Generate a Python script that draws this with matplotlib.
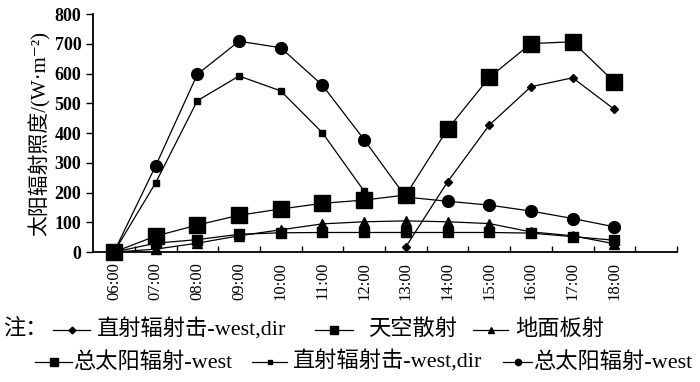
import numpy as np
import matplotlib
matplotlib.use('Agg')
import matplotlib.pyplot as plt
from matplotlib.lines import Line2D

plt.rcParams['font.family'] = ['Liberation Serif', 'Noto Sans CJK SC', 'DejaVu Sans']

hours = ['06:00', '07:00', '08:00', '09:00', '10:00', '11:00', '12:00',
         '13:00', '14:00', '15:00', '16:00', '17:00', '18:00']
nan = np.nan

# afternoon direct (diamonds)
dir_west_pm = [nan, nan, nan, nan, nan, nan, nan, 18, 236, 427, 556, 586, 480]
# sky diffuse (medium squares)
sky = [0, 30, 42, 60, 65, 66, 66, 66, 66, 66, 64, 52, 40]
# ground reflected (triangles)
ground = [0, 10, 30, 55, 75, 95, 102, 105, 102, 96, 68, 55, 28]
# total west (large squares)
total_west = [0, 54, 91, 124, 145, 164, 175, 192, 413, 587, 701, 707, 572]
# morning direct (small squares)
dir_west_am = [0, 233, 509, 592, 542, 401, 205, nan, nan, nan, nan, nan, nan]
# total (circles)
total_circ = [0, 290, 598, 709, 687, 561, 378, 185, 171, 158, 138, 113, 85]

labels = ['直射辐射击-west,dir', '天空散射', '地面板射',
          '总太阳辐射-west', '直射辐射击-west,dir', '总太阳辐射-west']

markers = ['D', 's', '^', 's', 's', 'o']
plot_ms = [4.5, 7, 7, 11, 4, 8.5]
legend_ms = [3.5, 5.5, 4, 6, 3.5, 4.5]
series = [dir_west_pm, sky, ground, total_west, dir_west_am, total_circ]

fig = plt.figure(figsize=(7, 3.82), dpi=100)
ax = fig.add_axes([0.133, 0.340, 0.834, 0.623])

x = np.arange(len(hours))
for ys, m, ms in zip(series, markers, plot_ms):
    ax.plot(x, ys, color='black', lw=0.9, marker=m, markersize=ms,
            markerfacecolor='black', markeredgecolor='black', clip_on=False)

ax.set_xlim(-0.5, 13.5)
ax.set_ylim(0, 800)
ax.set_yticks(range(0, 801, 100))
ax.set_xticks(x)
ax.set_xticklabels(hours, rotation=90, fontsize=12)
ax.set_xticks(np.arange(0.5, 14, 1), minor=True)
ax.tick_params(axis='x', which='major', length=0, pad=7)
ax.tick_params(axis='x', which='minor', direction='in', length=4, width=1)
ax.tick_params(axis='y', direction='out', length=5, width=1, labelsize=13)
for lab in ax.get_yticklabels():
    lab.set_fontweight('bold')
ax.spines['top'].set_visible(False)
ax.spines['right'].set_visible(False)
ax.spines['left'].set_linewidth(1.3)
ax.spines['bottom'].set_linewidth(1.3)
ax.set_ylabel('太阳辐射照度/(W·m⁻²)', fontsize=15, labelpad=3)

# legend laid out by hand in two rows below the axes (pixel positions)
W, H = 700.0, 382.0
fig.text(3 / W, 1 - 330 / H, '注：', fontsize=16, va='center')
entries = [
    (0, 53, 90, 97, 330),
    (1, 315, 353, 368, 330),
    (2, 473, 508, 515, 330),
    (3, 35, 72, 73, 362),
    (4, 252, 287, 293, 362),
    (5, 503, 532, 533, 362),
]
for i, x0, x1, xt, yc in entries:
    yy = 1 - yc / H
    fig.add_artist(Line2D([x0 / W, (x0 + x1) / 2 / W, x1 / W], [yy, yy, yy],
                          transform=fig.transFigure, color='black', lw=0.9,
                          marker=markers[i], markersize=legend_ms[i],
                          markevery=[1], markerfacecolor='black'))
    fig.text(xt / W, yy, labels[i], fontsize=16, va='center')

fig.savefig('out.png', dpi=100)
